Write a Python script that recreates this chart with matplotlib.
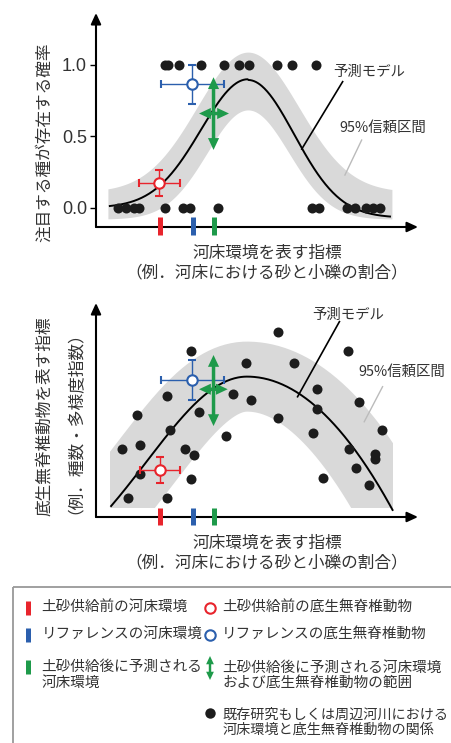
import numpy as np
import matplotlib
matplotlib.use("Agg")
import matplotlib.pyplot as plt
from matplotlib.patches import Rectangle

plt.rcParams['font.family'] = ['Noto Sans CJK JP', 'DejaVu Sans']

W, H = 451, 743
RED = '#e8242c'
BLUE = '#2b5fad'
GREEN = '#1e9a4a'
DOT = '#1c1c1c'
BAND = '#d9d9d9'
TXT = '#333333'

# river-bed index values (0-100 scale)
env_marks = [19.8, 30.0, 36.5]
mark_colors = [RED, BLUE, GREEN]

# --- upper panel: occurrence (0/1) of the focal species
occ1_x = [21.4, 22.5, 25.9, 32.5, 39.8, 44.5, 47.6, 56.3, 61.0, 68.2]
occ0_x = [6.8, 9.2, 11.9, 13.2, 21.4, 27.0, 29.2, 37.9, 67.1, 69.3,
          77.9, 80.4, 83.9, 86.0, 88.2]
prob_before = (19.7, 0.175, 6.4, 0.09)      # x, y, xerr, yerr
prob_ref = (29.9, 0.865, 9.8, 0.137)
prob_after_x = (32.0, 41.3)
prob_after_y = (0.405, 0.914)
prob_after_at = 0.66

# --- lower panel: invertebrate index
inv_x = [56.6, 78.2, 29.4, 46.6, 61.5, 22.1, 42.6, 48.1, 68.5, 81.8,
         12.8, 32.1, 68.5, 56.6, 23.0, 88.7, 40.4, 67.3, 8.1, 13.7,
         27.5, 30.3, 78.7, 86.6, 86.6, 80.7, 13.7, 29.4, 70.4, 84.9,
         9.8, 22.0]
inv_y = [86.6, 77.7, 77.7, 72.1, 71.8, 56.5, 57.5, 54.7, 59.7, 53.7,
         47.7, 49.1, 50.6, 46.1, 40.7, 40.7, 37.9, 39.4, 31.9, 33.6,
         31.9, 29.0, 31.9, 29.4, 27.2, 23.1, 20.0, 17.9, 18.0, 15.1,
         9.1, 9.1]
inv_before = (19.9, 22.0, 6.2, 6.1)
inv_ref = (29.9, 64.0, 9.8, 9.2)
inv_after_x = (32.0, 40.9)
inv_after_y = (42.5, 75.7)
inv_after_at = 59.7


def presence_model(x):
    x = np.asarray(x)
    left = 0.90 * np.exp(-(x - 47.2) ** 2 / (2 * 14.6 ** 2))
    right = -0.07 + 0.965 * np.exp(-(x - 47.2) ** 2 / (2 * 14.3 ** 2))
    return np.where(x < 47.2, left, right)


def presence_upper(x):
    return 0.11 + 0.98 * np.exp(-(x - 47.2) ** 2 / (2 * 15.8 ** 2))


def presence_lower(x):
    return -0.08 + 0.765 * np.exp(-(x - 47.2) ** 2 / (2 * 12.7 ** 2))


def index_model(x):
    x = np.asarray(x)
    left = -34.9 + 100.5 * np.exp(-(x - 46.9) ** 2 / (2 * 31.1 ** 2))
    right = 65.6 - 0.0305 * (x - 46.9) ** 2
    return np.where(x < 46.9, left, right)


def box(l, t, r, b):
    return [l / W, 1 - b / H, (r - l) / W, (b - t) / H]


def arrow_axes(ax):
    for s in ax.spines.values():
        s.set_visible(False)
    st = '-|>,head_length=0.65,head_width=0.3'
    ax.annotate('', xy=(1, 0), xytext=(0, 0), xycoords='axes fraction',
                arrowprops=dict(arrowstyle=st, lw=1.5, color='k',
                                shrinkA=0, shrinkB=0, mutation_scale=10))
    ax.annotate('', xy=(0, 1), xytext=(0, 0), xycoords='axes fraction',
                arrowprops=dict(arrowstyle=st, lw=1.5, color='k',
                                shrinkA=0, shrinkB=0, mutation_scale=10))


def half_arrow(ax, start, end, scale=10, z=6):
    st = 'simple,head_length=0.85,head_width=0.8,tail_width=0.25'
    ax.annotate('', xy=end, xytext=start,
                arrowprops=dict(arrowstyle=st, fc=GREEN, ec='none', lw=0,
                                shrinkA=0, shrinkB=0, mutation_scale=scale),
                zorder=z)


def cross(ax, xr, yr, xc, yc):
    for end in [(xc, yr[0]), (xc, yr[1]), (xr[0], yc), (xr[1], yc)]:
        half_arrow(ax, (xc, yc), end)


def circle(ax, p, color):
    ax.errorbar(p[0], p[1], xerr=p[2], yerr=p[3], fmt='o', ms=7.5,
                mfc='white', mec=color, mew=1.5, ecolor=color,
                elinewidth=1.0, capsize=3.2, capthick=1.0, zorder=5)


fig = plt.figure(figsize=(W / 100, H / 100), dpi=100)

# ---------------- upper panel
ax1 = fig.add_axes(box(96, 13, 418, 227))
ax1.set_xlim(0, 100)
ax1.set_ylim(-0.135, 1.364)
arrow_axes(ax1)
ax1.set_xticks([])
ax1.set_yticks([0.0, 0.5, 1.0])
ax1.set_yticklabels(['0.0', '0.5', '1.0'], fontsize=13, color=TXT,
                    family=['Liberation Sans', 'DejaVu Sans'])
ax1.tick_params(axis='y', length=4.5, width=1, pad=2)

xb = np.linspace(3.7, 91.9, 300)
ax1.fill_between(xb, presence_lower(xb), presence_upper(xb), color=BAND,
                 lw=0, zorder=1)
xc = np.linspace(4.3, 91.3, 300)
ax1.plot(xc, presence_model(xc), color='k', lw=1.4, zorder=3)
ax1.plot(occ1_x, [1.0] * len(occ1_x), 'o', ms=7.2, color=DOT, mew=0, zorder=4)
ax1.plot(occ0_x, [0.0] * len(occ0_x), 'o', ms=7.2, color=DOT, mew=0, zorder=4)
circle(ax1, prob_before, RED)
circle(ax1, prob_ref, BLUE)
cross(ax1, prob_after_x, prob_after_y, env_marks[2], prob_after_at)
ax1.vlines(env_marks, -0.063, -0.191, colors=mark_colors, lw=3.6,
           clip_on=False, zorder=6)

ax1.plot([76.6, 63.9], [0.883, 0.411], color='k', lw=1.2, zorder=4)
ax1.text(73.6, 0.953, '予測モデル', fontsize=10.4, color=TXT, va='center')
ax1.plot([82.5, 77.3], [0.474, 0.229], color='#bbbbbb', lw=1.0, zorder=4)
ax1.text(75.5, 0.561, '95%信頼区間', fontsize=10.4, color=TXT, va='center')

# ---------------- lower panel
ax2 = fig.add_axes(box(96, 303, 418, 517))
ax2.set_xlim(0, 100)
ax2.set_ylim(0, 100)
arrow_axes(ax2)
ax2.set_xticks([])
ax2.set_yticks([])

xs = np.linspace(-15, 115, 600)
band, = ax2.plot(xs, index_model(xs), color=BAND, lw=50.4,
                 solid_capstyle='butt', zorder=1)
band.set_clip_path(Rectangle((4.3, 4.07), 87.9, 120, transform=ax2.transData))
xc2 = np.linspace(4.7, 92.1, 300)
ax2.plot(xc2, index_model(xc2), color='k', lw=1.4, zorder=3)
ax2.plot(inv_x, inv_y, 'o', ms=7.2, color=DOT, mew=0, zorder=4)
circle(ax2, inv_before, RED)
circle(ax2, inv_ref, BLUE)
cross(ax2, inv_after_x, inv_after_y, env_marks[2], inv_after_at)
ax2.vlines(env_marks, 4.07, -3.74, colors=mark_colors, lw=3.6,
           clip_on=False, zorder=6)

ax2.plot([75.6, 62.6], [91.3, 56.2], color='k', lw=1.2, zorder=4)
ax2.text(67.0, 94.4, '予測モデル', fontsize=10.4, color=TXT, va='center')
ax2.plot([89.0, 83.3], [60.9, 44.5], color='#bbbbbb', lw=1.0, zorder=4)
ax2.text(81.4, 67.9, '95%信頼区間', fontsize=10.4, color=TXT, va='center')

# ---------------- axis titles
lab = dict(fontsize=12, color=TXT, ha='center', va='center')
fig.text(45 / W, 1 - 142.5 / H, '注目する種が存在する確率', rotation=90, **lab)
fig.text(45 / W, 1 - 416 / H, '底生無脊椎動物を表す指標', rotation=90, **lab)
fig.text(66.7 / W, 1 - 414 / H, '（例．種数・多様度指数）', rotation=90, **lab)
for y1, y2 in [(253, 273.3), (543.3, 563.3)]:
    fig.text(267.5 / W, 1 - y1 / H, '河床環境を表す指標', **lab)
    fig.text(266.5 / W, 1 - y2 / H, '（例．河床における砂と小礫の割合）', **lab)

# ---------------- legend
lg = fig.add_axes([0, 0, 1, 1])
lg.set_xlim(0, W)
lg.set_ylim(H, 0)
lg.axis('off')
lg.add_patch(Rectangle((12.7, 587), 460, 200, fill=False, ec='#999999', lw=1.3))

bar_labels = ['土砂供給前の河床環境', 'リファレンスの河床環境',
              '土砂供給後に予測される\n河床環境']
bar_rows = [608.3, 635, 666.7]
for c, y, t in zip(mark_colors, bar_rows, bar_labels):
    lg.plot([28.3, 28.3], [y - 7, y + 7], color=c, lw=3.6,
            solid_capstyle='butt')
    lg.text(41.7, y - 1 if '\n' not in t else y + 8, t, fontsize=10.5,
            color=TXT, va='center', linespacing=1.15)

lg.plot(210, 608.3, 'o', ms=7.5, mfc='white', mec=RED, mew=1.5)
lg.text(222.7, 607.3, '土砂供給前の底生無脊椎動物', fontsize=10.5, color=TXT,
        va='center')
lg.plot(210, 635, 'o', ms=7.5, mfc='white', mec=BLUE, mew=1.5)
lg.text(221.7, 634, 'リファレンスの底生無脊椎動物', fontsize=10.5, color=TXT,
        va='center')
half_arrow(lg, (210, 668), (210, 656), scale=7)
half_arrow(lg, (210, 668), (210, 680), scale=7)
lg.text(222.7, 675.3, '土砂供給後に予測される河床環境\nおよび底生無脊椎動物の範囲',
        fontsize=10.5, color=TXT, va='center', linespacing=1.15)
lg.plot(210, 713.3, 'o', ms=7.5, color=DOT, mew=0)
lg.text(222.7, 722.3, '既存研究もしくは周辺河川における\n河床環境と底生無脊椎動物の関係',
        fontsize=10.2, color=TXT, va='center', linespacing=1.15)

fig.savefig('out.png', dpi=100)
